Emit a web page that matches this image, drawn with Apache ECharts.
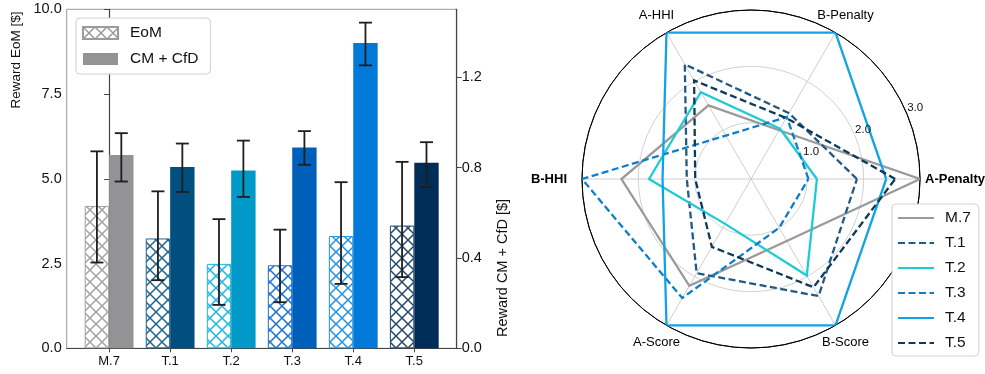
<!DOCTYPE html>
<html>
<head>
<meta charset="utf-8">
<script src="https://cdn.jsdelivr.net/npm/echarts@6/dist/echarts.min.js"></script>
<style>
  html, body { margin: 0; padding: 0; background: #fff; }
  #main { width: 985px; height: 374px; }
</style>
</head>
<body>
<div id="main"></div>
<script>
// bar chart data
var categories = ['M.7', 'T.1', 'T.2', 'T.3', 'T.4', 'T.5'];
var eomMean = [4.20, 3.24, 2.49, 2.45, 3.31, 3.62];
var eomLow  = [2.53, 2.01, 1.28, 1.36, 1.90, 2.10];
var eomHigh = [5.81, 4.63, 3.81, 3.50, 4.90, 5.50];
var cfdMean = [0.855, 0.802, 0.787, 0.888, 1.351, 0.821];
var cfdLow  = [0.738, 0.692, 0.670, 0.812, 1.252, 0.714];
var cfdHigh = [0.952, 0.906, 0.919, 0.961, 1.441, 0.912];
var cfdTicks = [0, 0.4, 0.8, 1.2];

// radar data
var indicators = ['A-Penalty', 'B-Penalty', 'A-HHI', 'B-HHI', 'A-Score', 'B-Score'];
var radarM7 = [3.00, 1.00, 1.51, 2.30, 2.19, 1.27];
var radarT1 = [1.88, 1.35, 2.35, 1.14, 1.93, 2.40];
var radarT2 = [1.17, 1.03, 1.78, 1.81, 0.92, 1.98];
var radarT3 = [1.02, 1.27, 0.89, 3.00, 2.44, 1.00];
var radarT4 = [2.40, 3.00, 3.00, 1.57, 3.00, 3.00];
var radarT5 = [2.56, 1.25, 2.02, 0.99, 1.39, 2.22];
var radarTicks = [1, 2, 3];

var FONT = '"Liberation Sans", Arial, sans-serif';
var barColors   = ['#939396', '#004f7f', '#0099c8', '#005fb8', '#0079d9', '#002d58'];
var hatchColors = ['#a2a2a2', '#1d6590', '#1eb6de', '#1a72cf', '#2192e4', '#24496c'];

function hatch(color) {
    var c = document.createElement('canvas');
    c.width = 12; c.height = 12;
    var g = c.getContext('2d');
    g.fillStyle = '#fff';
    g.fillRect(0, 0, 12, 12);
    g.strokeStyle = color;
    g.lineWidth = 1.5;
    g.beginPath();
    g.moveTo(-2, -2); g.lineTo(14, 14);
    g.moveTo(14, -2); g.lineTo(-2, 14);
    g.stroke();
    return { image: c, repeat: 'repeat' };
}

function errRender(shift) {
    return function (params, api) {
        var x = api.value(0);
        var a = api.coord([x, api.value(1)]), b = api.coord([x, api.value(2)]);
        var px = a[0] + shift, st = { stroke: '#1e1e1e', lineWidth: 1.8 };
        return { type: 'group', children: [
            { type: 'line', shape: { x1: px, y1: a[1], x2: px, y2: b[1] }, style: st },
            { type: 'line', shape: { x1: px - 6.5, y1: a[1], x2: px + 6.5, y2: a[1] }, style: st },
            { type: 'line', shape: { x1: px - 6.5, y1: b[1], x2: px + 6.5, y2: b[1] }, style: st }
        ]};
    };
}

var radarSeries = [
    { name: 'M.7', data: radarM7, color: '#9a9a9a', dash: 'solid' },
    { name: 'T.1', data: radarT1, color: '#215b84', dash: [7, 3.5] },
    { name: 'T.2', data: radarT2, color: '#1ccbd4', dash: 'solid' },
    { name: 'T.3', data: radarT3, color: '#0b80c8', dash: [7, 3.5] },
    { name: 'T.4', data: radarT4, color: '#12a2e6', dash: 'solid' },
    { name: 'T.5', data: radarT5, color: '#0b3a5c', dash: [7, 3.5] }
];

var CX = 751, CY = 179, R = 169;
var STEP = 360 / indicators.length;

// radar axis names placed like matplotlib's theta labels
var nameGraphics = indicators.map(function (name, i) {
    var ang = i * STEP * Math.PI / 180, cos = Math.cos(ang), sin = Math.sin(ang);
    var horiz = Math.abs(sin) < 0.01;
    var r = horiz ? (cos > 0 ? 174 : 184) : 189;
    return {
        type: 'text', x: CX + r * cos, y: CY - r * sin,
        style: {
            text: name, fill: '#000', font: (horiz ? 'bold ' : '') + '13px ' + FONT,
            align: horiz ? (cos > 0 ? 'left' : 'right') : 'center', verticalAlign: 'middle'
        }
    };
});

var series = [
    {
        name: 'EoM', type: 'bar', xAxisIndex: 0, yAxisIndex: 0, barWidth: 24.4, barGap: '0%',
        itemStyle: { color: hatch('#9a9a9a'), borderColor: '#9a9a9a', borderWidth: 1 },
        data: eomMean.map(function (v, i) {
            return { value: [i, v], itemStyle: { color: hatch(hatchColors[i]), borderColor: hatchColors[i] } };
        })
    },
    {
        name: 'CM + CfD', type: 'bar', xAxisIndex: 0, yAxisIndex: 1, barWidth: 24.4, barGap: '0%',
        itemStyle: { color: '#939396' },
        data: cfdMean.map(function (v, i) {
            return { value: [i, v], itemStyle: { color: barColors[i] } };
        })
    },
    {
        type: 'custom', xAxisIndex: 0, yAxisIndex: 0, z: 5, renderItem: errRender(-12.2),
        encode: { x: 0, y: [1, 2] },
        data: eomLow.map(function (v, i) { return [i, v, eomHigh[i]]; })
    },
    {
        type: 'custom', xAxisIndex: 0, yAxisIndex: 1, z: 5, renderItem: errRender(12.2),
        encode: { x: 0, y: [1, 2] },
        data: cfdLow.map(function (v, i) { return [i, v, cfdHigh[i]]; })
    }
];

radarSeries.forEach(function (s) {
    var pts = s.data.map(function (v, i) { return [v, i * STEP]; });
    pts.push([s.data[0], 360]);
    series.push({
        name: s.name, type: 'line', coordinateSystem: 'polar', polarIndex: 0,
        data: pts, symbol: 'none', showSymbol: false, z: 3,
        itemStyle: { color: s.color },
        lineStyle: { color: s.color, width: 2.3, type: s.dash, join: 'miter', cap: 'butt' }
    });
});

var myChart = echarts.init(document.getElementById('main'), null, { renderer: 'canvas' });
var option = {
    animation: false,
    textStyle: { fontFamily: FONT },
    grid: {
        left: 66.7, top: 9.3, width: 390, height: 339,
        show: true, borderColor: '#9a9a9a', borderWidth: 1, backgroundColor: 'transparent'
    },
    xAxis: {
        type: 'value', min: -0.695, max: 5.695,
        axisLine: { lineStyle: { color: '#444', width: 1.2 } },
        axisTick: { length: 4, customValues: [0, 1, 2, 3, 4, 5], lineStyle: { color: '#444' } },
        axisLabel: {
            customValues: [0, 1, 2, 3, 4, 5], margin: 7, color: '#111', fontSize: 13,
            formatter: function (v) { return categories[Math.round(v)]; }
        },
        splitLine: { show: false }
    },
    yAxis: [
        {
            type: 'value', min: 0, max: 10, interval: 2.5, position: 'left',
            axisLine: { show: true, lineStyle: { color: '#444', width: 1.2 } },
            axisTick: { show: true, length: 5, lineStyle: { color: '#444' } },
            axisLabel: { color: '#111', fontSize: 14.5, margin: 5, formatter: function (v) { return v.toFixed(1); } },
            splitLine: { show: false }
        },
        {
            type: 'value', min: 0, max: 1.5, position: 'right',
            axisLine: { show: true, lineStyle: { color: '#444', width: 1.2 } },
            axisTick: { show: true, length: 5, customValues: cfdTicks, lineStyle: { color: '#444' } },
            axisLabel: { color: '#111', fontSize: 14.5, margin: 5, customValues: cfdTicks,
                formatter: function (v) { return v.toFixed(1); } },
            splitLine: { show: false }
        }
    ],
    polar: [
        { center: [CX, CY], radius: R },
        { center: [CX, CY], radius: R }
    ],
    angleAxis: [
        {
            polarIndex: 0, type: 'value', min: 0, max: 360, interval: STEP,
            startAngle: 0, clockwise: false,
            axisLine: { lineStyle: { color: '#000', width: 1 } },
            axisTick: { show: false }, axisLabel: { show: false },
            splitLine: { show: true, lineStyle: { color: '#c8c8c8', width: 0.9 } }
        },
        {
            polarIndex: 1, type: 'value', min: 0, max: 360, startAngle: 22.5, clockwise: false,
            axisLine: { show: false }, axisTick: { show: false }, axisLabel: { show: false },
            splitLine: { show: false }
        }
    ],
    radiusAxis: [
        {
            polarIndex: 0, min: 0, max: 3, interval: 1,
            axisLine: { show: false }, axisTick: { show: false }, axisLabel: { show: false },
            splitLine: { show: true, lineStyle: { color: ['#cccccc', '#cccccc', '#cccccc', '#000000'], width: 0.9 } }
        },
        {
            polarIndex: 1, min: 0, max: 3, interval: 1, z: 10,
            axisLine: { show: false }, axisTick: { show: false }, splitLine: { show: false },
            axisLabel: {
                customValues: radarTicks, align: 'left', verticalAlign: 'bottom', margin: 0,
                fontSize: 11.5, color: '#111', formatter: function (v) { return v.toFixed(1); }
            }
        }
    ],
    legend: [
        {
            data: ['EoM', 'CM + CfD'], left: 76, top: 18, orient: 'vertical',
            itemWidth: 35, itemHeight: 12, itemGap: 10, padding: [7, 12, 7, 6],
            backgroundColor: '#fff', borderColor: '#d0d0d0', borderWidth: 1, borderRadius: 4,
            textStyle: { fontSize: 15.5, color: '#111', padding: [0, 0, 0, 7] }, icon: 'rect'
        },
        {
            data: ['M.7', 'T.1', 'T.2', 'T.3', 'T.4', 'T.5'], left: 892, top: 204, orient: 'vertical',
            itemWidth: 36, itemHeight: 14, itemGap: 9, padding: [6, 8, 5, 5],
            backgroundColor: '#fff', borderColor: '#d0d0d0', borderWidth: 1, borderRadius: 4,
            itemStyle: { opacity: 0 },
            textStyle: { fontSize: 15.5, color: '#111', padding: [0, 0, 0, 6] }
        }
    ],
    graphic: [
        {
            type: 'text', x: 16, y: 60, rotation: Math.PI / 2,
            style: { text: 'Reward EoM [$]', font: '13.5px ' + FONT, fill: '#111', align: 'center', verticalAlign: 'middle' }
        },
        {
            type: 'text', x: 503, y: 268, rotation: Math.PI / 2,
            style: { text: 'Reward CM + CfD [$]', font: '14.5px ' + FONT, fill: '#111', align: 'center', verticalAlign: 'middle' }
        }
    ].concat(nameGraphics),
    series: series
};
myChart.setOption(option);
</script>
</body>
</html>
